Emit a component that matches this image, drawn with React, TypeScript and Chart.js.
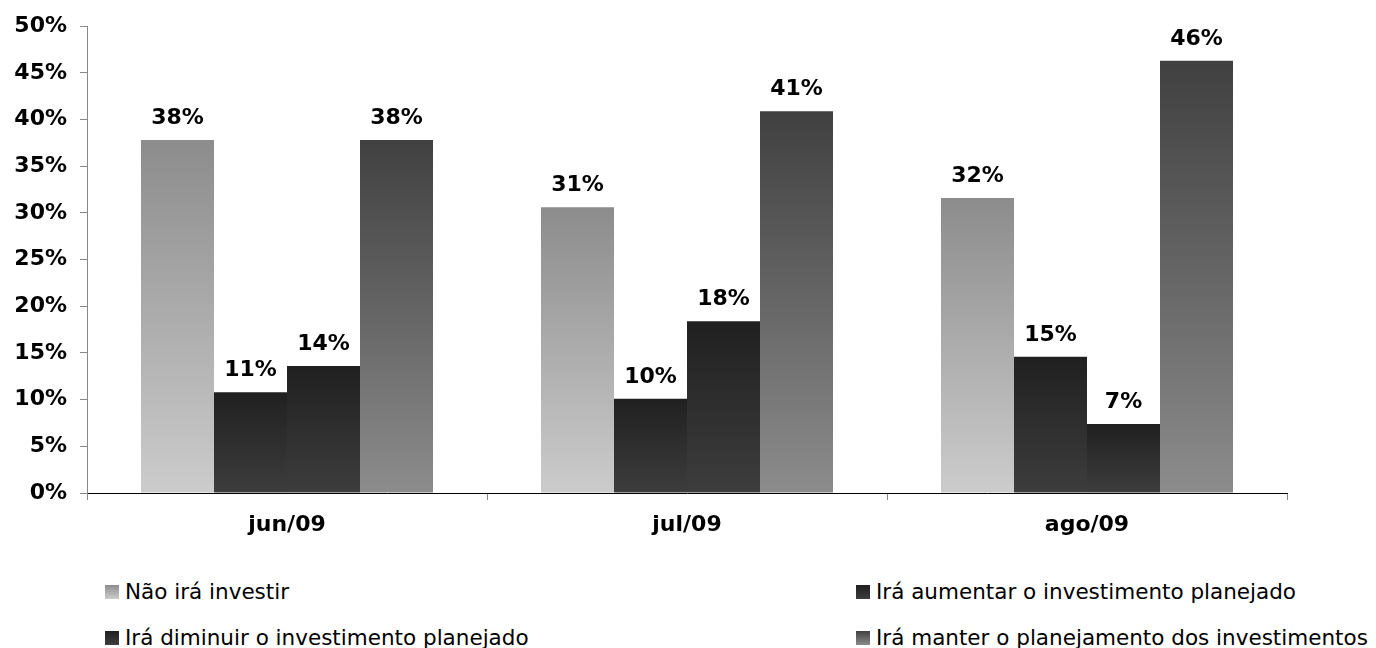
import React, { useEffect, useRef } from "react";
import { Chart, registerables } from "chart.js";

Chart.register(...registerables);

const categories = ["jun/09", "jul/09", "ago/09"];
const seriesNames = [
  "Não irá investir",
  "Irá aumentar o investimento planejado",
  "Irá diminuir o investimento planejado",
  "Irá manter o planejamento dos investimentos",
];
const naoIraInvestir = [37.8, 30.6, 31.6];
const iraAumentar = [10.8, 10.1, 14.6];
const iraDiminuir = [13.6, 18.4, 7.4];
const iraManter = [37.8, 40.9, 46.3];
const yTicks = [0, 5, 10, 15, 20, 25, 30, 35, 40, 45, 50];

// gradient stops: [top colour, bottom colour]
const gradients: [string, string][] = [
  ["#8c8c8c", "#cccccc"],
  ["#202020", "#3d3d3d"],
  ["#202020", "#3d3d3d"],
  ["#404040", "#8c8c8c"],
];

const FONT = "'DejaVu Sans', Verdana, sans-serif";
const BOLD_SIZE = 22;

const dataLabels = {
  id: "dataLabels",
  afterDatasetsDraw(chart: any) {
    const ctx = chart.ctx;
    ctx.save();
    ctx.font = `bold ${BOLD_SIZE}px ${FONT}`;
    ctx.fillStyle = "#000";
    ctx.textAlign = "center";
    ctx.textBaseline = "alphabetic";
    chart.data.datasets.forEach((ds: any, di: number) => {
      const meta = chart.getDatasetMeta(di);
      meta.data.forEach((el: any, i: number) => {
        const v = ds.data[i];
        ctx.fillText(Math.round(v) + "%", el.x, el.y - 16);
      });
    });
    ctx.restore();
  },
};

export default function App() {
  const ref = useRef<HTMLCanvasElement | null>(null);

  useEffect(() => {
    if (!ref.current) return;
    const seriesData = [naoIraInvestir, iraAumentar, iraDiminuir, iraManter];
    const chart = new Chart(ref.current, {
      type: "bar",
      data: {
        labels: categories,
        datasets: seriesData.map((d, si) => ({
          label: seriesNames[si],
          data: d,
          borderWidth: 0,
          categoryPercentage: 0.73,
          barPercentage: 1,
          backgroundColor: (c: any) => {
            const ch = c.chart;
            if (!ch.chartArea || c.type !== "data") return gradients[si][0];
            const y = ch.scales.y;
            const top = y.getPixelForValue(c.raw);
            const bottom = y.getPixelForValue(0);
            const g = ch.ctx.createLinearGradient(0, top, 0, bottom);
            g.addColorStop(0, gradients[si][0]);
            g.addColorStop(1, gradients[si][1]);
            return g;
          },
        })),
      },
      options: {
        responsive: false,
        animation: false,
        layout: { padding: { top: 25, right: 89, left: 0, bottom: 0 } },
        plugins: {
          legend: { display: false },
          tooltip: { enabled: false },
        },
        scales: {
          x: {
            afterFit: (s: any) => {
              s.height = 67;
            },
            grid: {
              offset: true,
              drawOnChartArea: false,
              drawTicks: true,
              tickLength: 7,
              color: "#888888",
            },
            border: { display: true, color: "#000000", width: 1 },
            ticks: {
              padding: 12,
              color: "#000",
              font: { family: FONT, size: BOLD_SIZE, weight: "bold" },
            },
          },
          y: {
            min: 0,
            max: 50,
            afterFit: (s: any) => {
              s.width = 87;
            },
            afterBuildTicks: (s: any) => {
              s.ticks = yTicks.map((v) => ({ value: v }));
            },
            grid: {
              drawOnChartArea: false,
              drawTicks: true,
              tickLength: 7,
              color: "#888888",
            },
            border: { display: true, color: "#888888", width: 1 },
            ticks: {
              padding: 13,
              color: "#000",
              font: { family: FONT, size: BOLD_SIZE, weight: "bold" },
              callback: (v: any) => v + "%",
            },
          },
        },
      },
      plugins: [dataLabels],
    } as any);
    return () => chart.destroy();
  }, []);

  const legendPos = [
    { left: 105, top: 581 },
    { left: 856, top: 581 },
    { left: 105, top: 627 },
    { left: 856, top: 627 },
  ];

  return (
    <div
      style={{
        position: "absolute",
        left: 0,
        top: 0,
        width: 1376,
        height: 648,
        background: "#fff",
        overflow: "hidden",
      }}
    >
      <canvas ref={ref} width={1376} height={560} style={{ display: "block" }} />
      {seriesNames.map((name, i) => (
        <div
          key={name}
          style={{
            position: "absolute",
            left: legendPos[i].left,
            top: legendPos[i].top,
            height: 21,
            display: "flex",
            alignItems: "center",
            fontFamily: FONT,
            fontSize: 21.5,
            lineHeight: "21px",
            color: "#000",
            whiteSpace: "nowrap",
          }}
        >
          <span
            style={{
              display: "inline-block",
              width: 14,
              height: 14,
              marginRight: 6,
              background: `linear-gradient(to bottom, ${gradients[i][0]}, ${gradients[i][1]})`,
            }}
          />
          <span>{name}</span>
        </div>
      ))}
    </div>
  );
}
